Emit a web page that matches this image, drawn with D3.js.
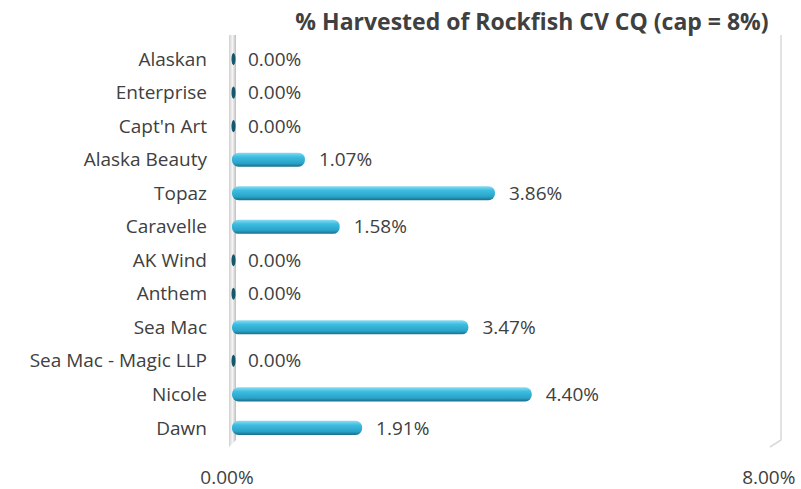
<!DOCTYPE html>
<html>
<head>
<meta charset="utf-8">
<script src="https://cdn.jsdelivr.net/npm/d3@7"></script>
<style>
  body { margin: 0; background: #fff; }
  text { font-family: "Open Sans", "DejaVu Sans", sans-serif; fill: #404040; }
</style>
</head>
<body>
<div class="chart"></div>
<script>
// chart data, top to bottom
var vessels = ["Alaskan", "Enterprise", "Capt'n Art", "Alaska Beauty", "Topaz", "Caravelle",
  "AK Wind", "Anthem", "Sea Mac", "Sea Mac - Magic LLP", "Nicole", "Dawn"];
var harvested = [0, 0, 0, 1.07, 3.86, 1.58, 0, 0, 3.47, 0, 4.40, 1.91];
var xTicks = [0, 8];
var chartTitle = "% Harvested of Rockfish CV CQ (cap = 8%)";

var rows = vessels.map(function(name, i) { return { name: name, value: harvested[i] }; });

var svgWidth = 801;
var svgHeight = 489;
var margin = { top: 42, right: 24, bottom: 44, left: 232 };

var svg = d3.select(".chart").append("svg")
  .attr("width", svgWidth)
  .attr("height", svgHeight);

var defs = svg.append("defs");
var barGrad = defs.append("linearGradient").attr("id", "barGrad")
  .attr("x1", 0).attr("y1", 0).attr("x2", 0).attr("y2", 1);
barGrad.append("stop").attr("offset", "0%").attr("stop-color", "#8adcf2");
barGrad.append("stop").attr("offset", "30%").attr("stop-color", "#3cbde0");
barGrad.append("stop").attr("offset", "75%").attr("stop-color", "#2aa3c8");
barGrad.append("stop").attr("offset", "100%").attr("stop-color", "#1a6f8a");

var wallGrad = defs.append("linearGradient").attr("id", "wallGrad")
  .attr("x1", 0).attr("y1", 0).attr("x2", 1).attr("y2", 0);
wallGrad.append("stop").attr("offset", "0%").attr("stop-color", "#d0d0d0");
wallGrad.append("stop").attr("offset", "50%").attr("stop-color", "#f4f4f4");
wallGrad.append("stop").attr("offset", "100%").attr("stop-color", "#bdbdbd");

var chart = svg.append("g")
  .attr("transform", "translate(" + margin.left + "," + margin.top + ")");

var xScale = d3.scaleLinear().domain([0, 8]).range([0, 545]);
var yScale = d3.scaleBand().domain(vessels).range([0, 403]).paddingInner(0.58).paddingOuter(0.3);
var bh = yScale.bandwidth();

// left wall
chart.append("path")
  .attr("d", "M-3,-7 L4,-7 L4,398 L-3,405 Z")
  .attr("fill", "url(#wallGrad)");

// right gridline with depth
chart.append("path")
  .attr("d", "M" + (xScale(8) + 4) + ",-7 L" + (xScale(8) + 4) + ",398 L" + (xScale(8) - 7) + ",405")
  .attr("fill", "none")
  .attr("stroke", "#d9d9d9")
  .attr("stroke-width", 1.5);

// bars
chart.selectAll(".bar").data(rows.filter(function(d) { return d.value > 0; })).enter()
  .append("rect")
  .attr("class", "bar")
  .attr("x", 0)
  .attr("y", function(d) { return yScale(d.name); })
  .attr("width", function(d) { return xScale(d.value); })
  .attr("height", bh)
  .attr("rx", bh / 2.2)
  .attr("fill", "url(#barGrad)");

// flat bars for zero values
chart.selectAll(".zero").data(rows.filter(function(d) { return d.value === 0; })).enter()
  .append("ellipse")
  .attr("class", "zero")
  .attr("cx", 1.5)
  .attr("cy", function(d) { return yScale(d.name) + bh / 2; })
  .attr("rx", 2)
  .attr("ry", bh / 2 - 1)
  .attr("fill", "#17576b");

// value labels
chart.selectAll(".val").data(rows).enter().append("text")
  .attr("x", function(d) { return xScale(d.value) + (d.value > 0 ? 14 : 16); })
  .attr("y", function(d) { return yScale(d.name) + bh / 2; })
  .attr("dy", "0.35em")
  .style("font-size", "19px")
  .text(function(d) { return d.value.toFixed(2) + "%"; });

// category labels
chart.selectAll(".cat").data(vessels).enter().append("text")
  .attr("x", -25)
  .attr("y", function(d) { return yScale(d) + bh / 2; })
  .attr("dy", "0.35em")
  .attr("text-anchor", "end")
  .style("font-size", "19px")
  .text(function(d) { return d; });

// x tick labels (sit on the front plane, shifted left by the depth)
chart.selectAll(".tick").data(xTicks).enter().append("text")
  .attr("x", function(d) { return xScale(d) - 5 - d * 0.4; })
  .attr("y", 435)
  .attr("dy", "0.35em")
  .attr("text-anchor", "middle")
  .style("font-size", "19px")
  .text(function(d) { return d.toFixed(2) + "%"; });

// title
svg.append("text")
  .attr("x", 532)
  .attr("y", 22)
  .attr("dy", "0.35em")
  .attr("text-anchor", "middle")
  .style("font-size", "23px")
  .style("font-weight", "bold")
  .text(chartTitle);
</script>
</body>
</html>
